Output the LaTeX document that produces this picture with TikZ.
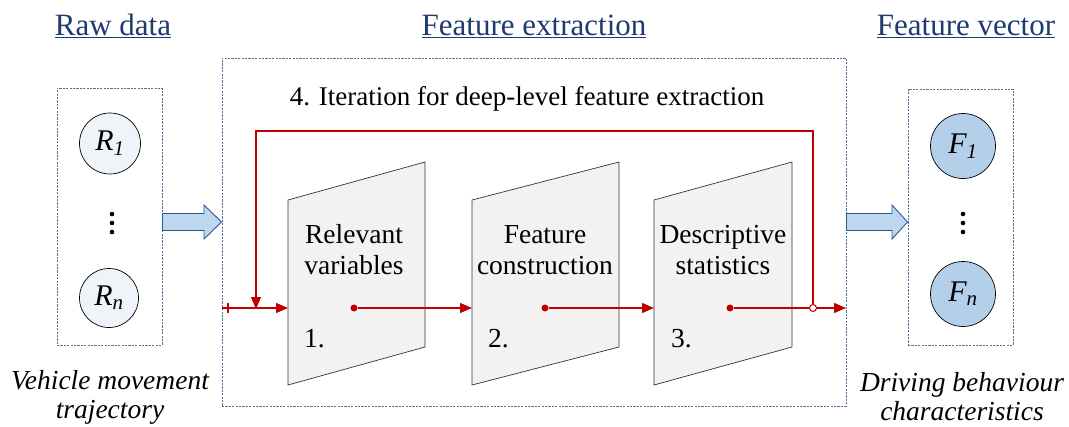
\documentclass[tikz,border=0pt]{standalone}
\usepackage{fontspec}
\setmainfont{Liberation Serif}
\usetikzlibrary{arrows.meta}
\definecolor{titleblue}{HTML}{1F3A70}
\definecolor{dashblue}{HTML}{4F6E9E}
\definecolor{flowred}{HTML}{C00000}
\definecolor{arrowfill}{HTML}{BDD7EE}
\definecolor{arrowedge}{HTML}{2F5597}
\definecolor{rawfill}{HTML}{EEF4FA}
\definecolor{featfill}{HTML}{B4CFEA}
\definecolor{stagefill}{HTML}{F2F2F2}
\tikzset{
  heading/.style={text=titleblue, anchor=base, font=\fontsize{31}{33}\selectfont, inner sep=0pt},
  caption/.style={align=center, font=\itshape\fontsize{27.5}{29}\selectfont, inner sep=0pt},
  dashbox/.style={draw=dashblue, line width=0.9pt, dash pattern=on 2.2pt off 1.2pt},
  blockarrow/.style={draw=arrowedge, fill=arrowfill, line width=0.9pt},
  datacircle/.style={circle, draw=black, line width=0.7pt, inner sep=0pt, font=\itshape\fontsize{30}{30}\selectfont},
  stage/.style={draw=black!80, fill=stagefill, line width=0.7pt},
  stagelabel/.style={align=center, font=\fontsize{27.5}{31}\selectfont, inner sep=0pt},
  stagenum/.style={anchor=base west, font=\fontsize{27.5}{28}\selectfont, inner sep=0pt},
  flow/.style={draw=flowred, line width=1.1pt},
  flowarrow/.style={flow, -{Triangle[length=12pt,width=10pt]}},
  flowdot/.style={circle, fill=flowred, inner sep=0pt, minimum size=7pt},
  opendot/.style={circle, draw=flowred, fill=white, line width=1pt, inner sep=0pt, minimum size=7pt},
}
\begin{document}
\begin{tikzpicture}[x=1pt,y=-1pt]
\useasboundingbox (0,0) rectangle (1069,426);

% column headings
\node[heading] (hraw) at (113,35) {\underline{Raw data}};
\node[heading] (hext) at (534,35) {\underline{Feature extraction}};
\node[heading] (hvec) at (966,35) {\underline{Feature vector}};

% raw data column
\node[dashbox, minimum width=105pt, minimum height=257pt, inner sep=0pt] (rawbox) at (109.5,216.5) {};
\node[datacircle, fill=rawfill, minimum size=61pt] (r1) at (110,143.5) {R\textsubscript{1}};
\node[datacircle, fill=rawfill, minimum size=59pt] (rn) at (109,298) {R\textsubscript{\itshape n}};
\foreach \yy in {214,223,232} \fill (112,\yy) circle (2.3pt);
\node[caption] (rawcap) at (110,397) {Vehicle movement\\trajectory};

% feature extraction frame
\node[dashbox, minimum width=624pt, minimum height=348pt, inner sep=0pt] (extbox) at (534,232) {};
\node[font=\fontsize{27}{28}\selectfont, anchor=base, inner sep=0pt] (iter) at (527,105) {4. Iteration for deep-level feature extraction};

% feature vector column
\node[dashbox, minimum width=105pt, minimum height=256pt, inner sep=0pt] (vecbox) at (960.5,217) {};
\node[datacircle, fill=featfill, minimum size=65pt] (f1) at (963,146) {F\textsubscript{1}};
\node[datacircle, fill=featfill, minimum size=65pt] (fn) at (963,294) {F\textsubscript{\itshape n}};
\foreach \yy in {214,223,232} \fill (963,\yy) circle (2.3pt);
\node[caption] (veccap) at (962,397) {Driving behaviour\\characteristics};

% wide block arrows between the columns
\draw[blockarrow] (rawbox.east |- 0,213.5) -- (204,213.5) -- (204,205) -- (extbox.west |- 0,222)
  -- (204,239) -- (204,230.5) -- (rawbox.east |- 0,230.5) -- cycle;
\draw[blockarrow] (extbox.east |- 0,213.5) -- (892,213.5) -- (892,205) -- (vecbox.west |- 0,222)
  -- (892,239) -- (892,230.5) -- (extbox.east |- 0,230.5) -- cycle;

% processing stages
\draw[stage] (288,200) -- (425,162) -- (425,347) -- (288,385) -- cycle;
\draw[stage] (472,200) -- (619,162) -- (619,347) -- (472,385) -- cycle;
\draw[stage] (654,200) -- (792,162) -- (792,347) -- (654,385) -- cycle;
\coordinate (s1in) at (288,308);
\coordinate (s2in) at (472,308);
\coordinate (s3in) at (654,308);
\node[stagelabel] (l1) at (354,250) {Relevant\\variables};
\node[stagelabel] (l2) at (545,250) {Feature\\construction};
\node[stagelabel] (l3) at (723,250) {Descriptive\\statistics};
\node[stagenum] (n1) at (304,347) {1.};
\node[stagenum] (n2) at (488,347) {2.};
\node[stagenum] (n3) at (671,347) {3.};

% data flow
\coordinate (fin) at (222,308);
\coordinate (merge) at (256,308);
\coordinate (fout) at (846,308);
\node[flowdot] (d1) at (354,308) {};
\node[flowdot] (d2) at (545,308) {};
\node[flowdot] (d3) at (730,308) {};
\coordinate (loopTR) at (813,131);
\coordinate (loopTL) at (256,131);
\draw[flow] (228,303) -- (228,313);
\draw[flowarrow] (fin) -- (s1in);
\draw[flowarrow] (d1) -- (s2in);
\draw[flowarrow] (d2) -- (s3in);
\draw[flowarrow] (d3) -- (fout);
\node[opendot] (split) at (813,308) {};
\draw[flowarrow] (split) -- (loopTR) -- (loopTL) -- ([yshift=-1pt]merge);
\end{tikzpicture}
\end{document}
